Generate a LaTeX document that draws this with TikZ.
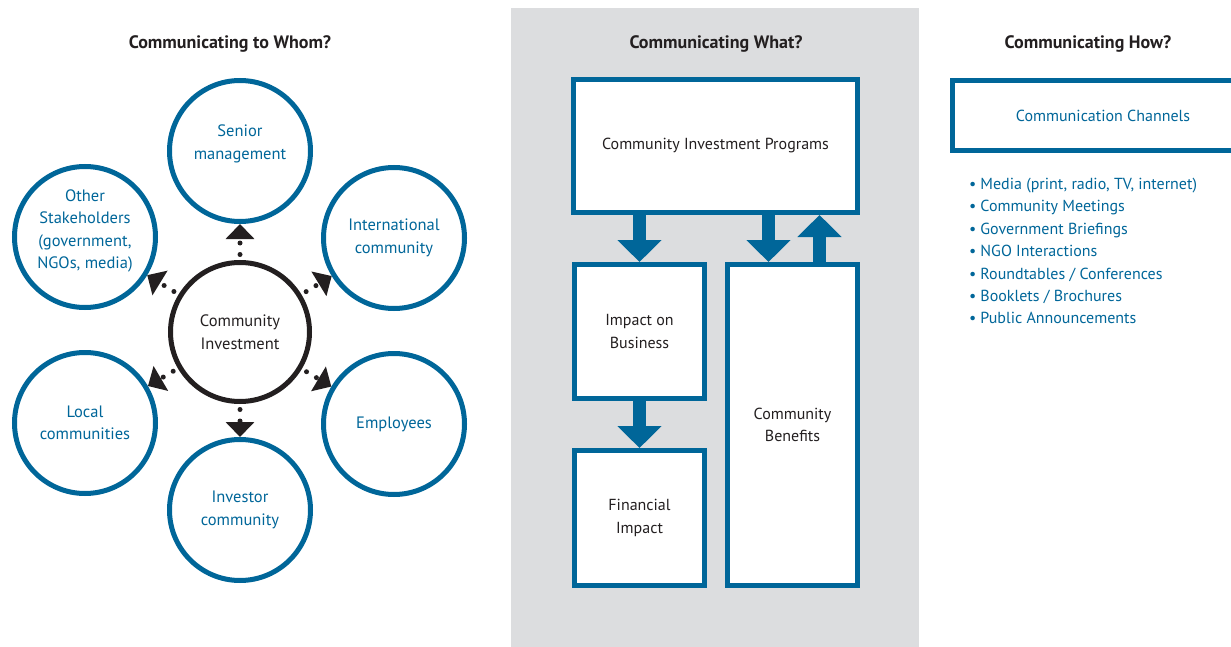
\documentclass[tikz,border=0pt]{standalone}
\usepackage{fontspec}
\setmainfont{PT Sans}
\usepackage{xcolor}
\usepackage{tikz}
\usetikzlibrary{arrows.meta, calc}
\definecolor{cblue}{RGB}{0,102,153}
\definecolor{panel}{RGB}{220,221,223}
\definecolor{ink}{RGB}{35,31,32}
\tikzset{
    title/.style={anchor=base, text=ink, font=\fontsize{18}{21}\selectfont\bfseries},
    audience/.style={circle, draw=cblue, line width=5pt, minimum size=141pt, inner sep=0pt, align=center, text=cblue, font=\fontsize{16.5}{22.5}\selectfont},
    hub/.style={circle, draw=ink, line width=5pt, minimum size=139pt, inner sep=0pt, align=center, text=ink, font=\fontsize{16.5}{22.5}\selectfont},
    block/.style={rectangle, draw=cblue, line width=5pt, fill=white, inner sep=0pt, align=center, text=ink, font=\fontsize{16}{22.5}\selectfont},
    reach/.style={ink, line width=5pt, line cap=round, dash pattern=on 0pt off 11.5pt, dash phase=6pt, -{Triangle[width=28pt, length=15pt]}},
    bigarrow/.style={cblue, line width=13pt, -{Triangle[width=43pt, length=22pt]}}
}

\begin{document}
\begin{tikzpicture}[x=1pt, y=-1pt]
    \useasboundingbox (0,0) rectangle (1231,647);
    \clip (0,0) rectangle (1231,647);

    % Middle panel
    \fill[panel] (511,8) rectangle (919,647);

    % Titles
    \node[title] (whom) at (230,49) {Communicating to Whom?};
    \node[title] (what) at (716,49) {Communicating What?};
    \node[title] (how) at (1088,49) {Communicating How?};

    % Audiences
    \node[hub] (hub) at (240,332) {Community\\Investment};
    \node[audience, text depth=18pt] (senior) at (240,151) {Senior\\management};
    \node[audience] (intl) at (394,238) {International\\community};
    \node[audience] (staff) at (394,424) {Employees};
    \node[audience] (investor) at (240,510) {Investor\\community};
    \node[audience] (local) at (85,423) {Local\\communities};
    \node[audience, text depth=16pt] (other) at (85,237) {Other\\Stakeholders\\(government,\\NGOs, media)};

    \draw[reach] (hub) -- (senior);
    \draw[reach] (hub) -- (intl);
    \draw[reach] (hub) -- (staff);
    \draw[reach] (hub) -- (investor);
    \draw[reach] (hub) -- (local);
    \draw[reach] (hub) -- (other);

    % Programs and impacts
    \node[block, minimum width=284pt, minimum height=133pt] (programs) at (715.5,146) {Community Investment Programs};
    \node[block, minimum width=130pt, minimum height=134pt] (business) at (639.5,331.5) {Impact on\\Business};
    \node[block, minimum width=130pt, minimum height=135pt] (financial) at (639.5,518) {Financial\\Impact};
    \node[block, minimum width=130pt, minimum height=321pt] (benefits) at (792.5,425) {Community\\Benefits};

    \draw[bigarrow] (programs.south -| business) -- (business.north);
    \draw[bigarrow] (business) -- (financial);
    \draw[bigarrow] ($(programs.south -| benefits)+(-24,0)$) -- ($(benefits.north)+(-24,0)$);
    \draw[bigarrow] ($(benefits.north)+(27,0)$) -- ($(programs.south -| benefits)+(27,0)$);

    % Channels
    \node[block, text=cblue, minimum width=301pt, minimum height=70pt] (channels) at (1103,115.5) {Communication Channels};
    \node[anchor=north west, inner sep=0pt, align=left, text=cblue, font=\fontsize{16}{22.4}\selectfont] (list) at (969,178) {%
        \textbullet\hspace{4pt}Media (print, radio, TV, internet)\\
        \textbullet\hspace{4pt}Community Meetings\\
        \textbullet\hspace{4pt}Government Briefings\\
        \textbullet\hspace{4pt}NGO Interactions\\
        \textbullet\hspace{4pt}Roundtables / Conferences\\
        \textbullet\hspace{4pt}Booklets / Brochures\\
        \textbullet\hspace{4pt}Public Announcements};
\end{tikzpicture}
\end{document}
